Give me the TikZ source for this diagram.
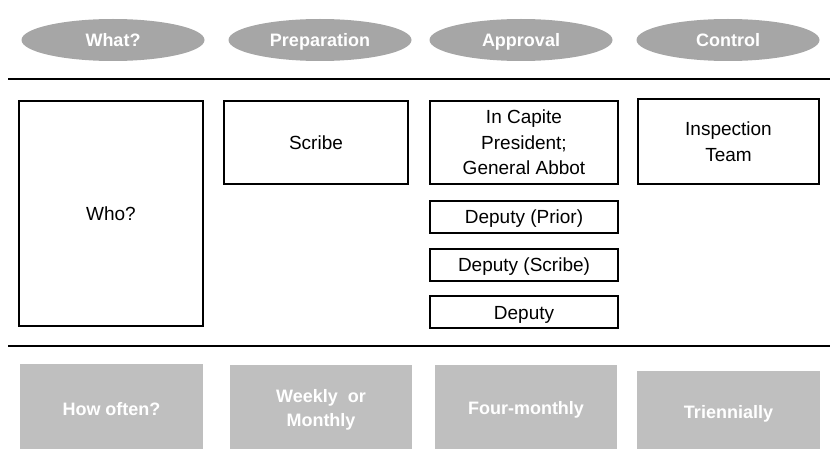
\documentclass[tikz,border=0pt]{standalone}
\usepackage{fontspec}
\setmainfont{Liberation Sans}
\usetikzlibrary{shapes.geometric}
\definecolor{ellgray}{HTML}{A6A6A6}
\definecolor{boxgray}{HTML}{BFBFBF}
\begin{document}
\begin{tikzpicture}[x=1pt,y=-1pt,
  ell/.style={ellipse,fill=ellgray,draw=none,text=white,font=\fontsize{18}{22}\selectfont\bfseries,minimum width=183pt,minimum height=42pt,inner sep=0pt,text height=13pt,text depth=0pt},
  wbox/.style={rectangle,draw=black,line width=1.3pt,fill=white,font=\fontsize{19}{25.5}\selectfont,align=center,inner sep=0pt},
  dbox/.style={wbox,minimum width=188pt,minimum height=32pt,text height=14pt,text depth=0pt},
  gbox/.style={rectangle,fill=boxgray,draw=none,text=white,font=\fontsize{18}{24}\selectfont\bfseries,align=center,inner sep=0pt},
  gtext/.style={text=white,font=\fontsize{18}{24}\selectfont\bfseries,align=center,inner sep=0pt},
  sep/.style={line width=1.3pt}]
\useasboundingbox (0,0) rectangle (830,449);
% header ellipses
\node[ell] (what) at (113,40) {What?};
\node[ell] (prep) at (320,40) {Preparation};
\node[ell] (appr) at (521,40) {Approval};
\node[ell] (ctrl) at (728,40) {Control};
% separators
\coordinate (l1a) at (8,79); \coordinate (l1b) at (830,79);
\draw[sep] (l1a) -- (l1b);
\coordinate (l2a) at (8,346); \coordinate (l2b) at (830,346);
\draw[sep] (l2a) -- (l2b);
% who boxes
\node[wbox,minimum width=184pt,minimum height=225pt] (who) at (111,213.5) {Who?};
\node[wbox,minimum width=184pt,minimum height=83pt] (scribe) at (316,142.5) {Scribe};
\node[wbox,minimum width=188pt,minimum height=83pt] (pres) at (524,142.5) {In Capite\\President;\\General Abbot};
\node[wbox,minimum width=181pt,minimum height=85pt] (insp) at (728.5,141.5) {Inspection\\Team};
\node[dbox] (dp) at (524,217) {Deputy (Prior)};
\node[dbox] (ds) at (524,265) {Deputy (Scribe)};
\node[dbox] (d) at (524,312) {Deputy};
% how often boxes
\node[gbox,minimum width=183pt,minimum height=85pt] (how) at (111.5,406.5) {};
\node[gtext] (howt) at (111.5,409) {How often?};
\node[gbox,minimum width=182pt,minimum height=84pt] (wm) at (321,407) {};
\node[gtext] (wmt) at (321,410) {Weekly~ or\\Monthly};
\node[gbox,minimum width=182pt,minimum height=84pt] (fm) at (526,407) {};
\node[gtext] (fmt) at (526,410) {Four-monthly};
\node[gbox,minimum width=183pt,minimum height=78pt] (tri) at (728.5,410) {};
\node[gtext] (trit) at (728.5,413.5) {Triennially};
\end{tikzpicture}
\end{document}
